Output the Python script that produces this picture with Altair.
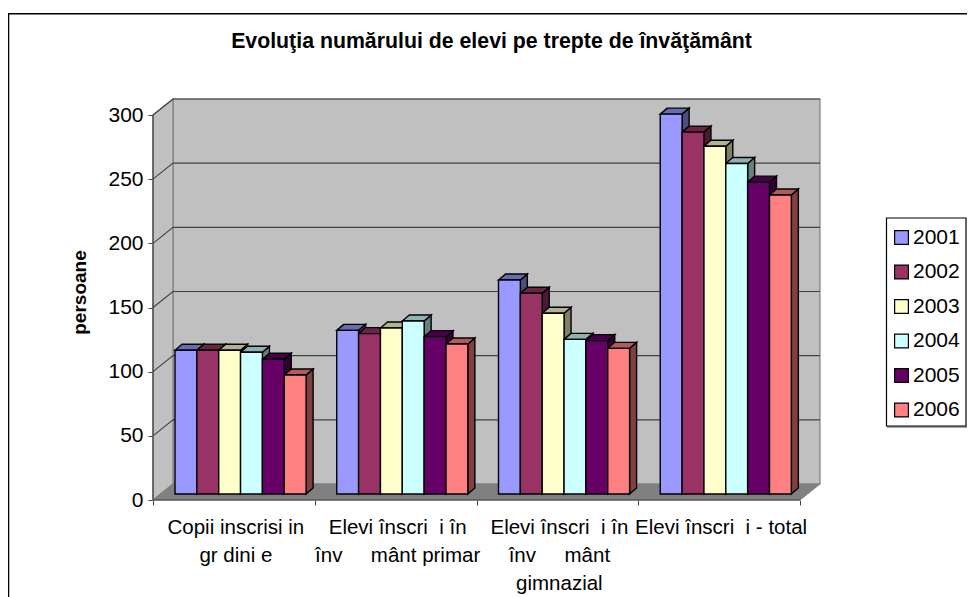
import altair as alt
import pandas as pd

# ---- values ----
categories = ["Copii inscrisi in\ngr\u00a0dini\u00a0e",
              "Elevi înscri\u00a0\u00a0i în\nînv\u00a0\u00a0\u00a0\u00a0\u00a0mânt primar",
              "Elevi înscri\u00a0\u00a0i în\nînv\u00a0\u00a0\u00a0\u00a0\u00a0mânt\ngimnazial",
              "Elevi înscri\u00a0\u00a0i - total"]
years = ["2001", "2002", "2003", "2004", "2005", "2006"]
v2001 = [112, 127.5, 166.8, 296]
v2002 = [112, 125, 156.4, 282]
v2003 = [112, 129.3, 140.8, 271]
v2004 = [110.5, 134.8, 120.5, 257.5]
v2005 = [105, 122.6, 119.5, 243]
v2006 = [92.7, 116.9, 113.5, 233]
series = [v2001, v2002, v2003, v2004, v2005, v2006]
front = ["#9999FF", "#993366", "#FFFFCC", "#CCFFFF", "#660066", "#FF8080"]
tops = ["#6B6BB3", "#6B2447", "#B3B38F", "#8FB3B3", "#470047", "#B35A5A"]
sides = ["#4D4D80", "#4D1A33", "#808066", "#668080", "#330033", "#804040"]
y_ticks = [0, 50, 100, 150, 200, 250, 300]

# ---- scale set-up: plot area is 667 x 401 px ----
W, H = 667, 401
CAT_PX = 161.75
VAL_PX = 385 / 300
dx = 20 / CAT_PX           # floor depth, in category units
dy = 16 / VAL_PX           # floor depth, in value units
bar_dx, bar_dy = 7 / CAT_PX, 6 / VAL_PX
bar_w = 21.85 / CAT_PX
start = 22 / CAT_PX
XS = alt.Scale(domain=[0, 4 + dx], nice=False, zero=False)
YS = alt.Scale(domain=[0, 300 + dy], nice=False, zero=False)
FONT = "Liberation Sans"
AX = alt.Axis(values=[0, 1, 2, 3, 4], labels=False, title=None, grid=False,
              domain=False, tickSize=5, tickColor="#404040")
AY = alt.Axis(values=y_ticks, title="persoane", grid=False, domain=False, tickSize=5,
              tickColor="#404040", labelFont=FONT, labelFontSize=21, labelColor="black",
              labelPadding=5, titleFont=FONT, titleFontSize=19, titleFontWeight="bold",
              titleColor="black", titleX=-64, titleY=193)


def X(f="x"):
    return alt.X(f"{f}:Q", scale=XS, axis=AX)


def Y(f="y"):
    return alt.Y(f"{f}:Q", scale=YS, axis=AY)


X2 = alt.X2("x2:Q")
Y2 = alt.Y2("y2:Q")

# walls
back = alt.Chart(pd.DataFrame({"x": [dx, 4 + dx], "y": [300 + dy] * 2, "y2": [dy] * 2})).mark_area(
    color="#C0C0C0", stroke="#808080", strokeWidth=1.2).encode(x=X(), y=Y(), y2=Y2)
left_wall = alt.Chart(pd.DataFrame({"x": [0, dx], "y": [300, 300 + dy], "y2": [0, dy]})).mark_area(
    color="#C0C0C0", stroke="#808080", strokeWidth=1.2).encode(x=X(), y=Y(), y2=Y2)

# grid lines: side wall diagonal + back wall
grid_rows = []
for v in y_ticks[1:]:
    grid_rows += [{"v": v, "x": 0, "y": v, "o": 0},
                  {"v": v, "x": dx, "y": v + dy, "o": 1},
                  {"v": v, "x": 4 + dx, "y": v + dy, "o": 2}]
grid = alt.Chart(pd.DataFrame(grid_rows)).mark_line(color="#404040", strokeWidth=1.1).encode(
    x=X(), y=Y(), detail="v:N", order="o:Q")

floor = alt.Chart(pd.DataFrame({"y": [0, dy], "x": [0, dx], "x2": [4, 4 + dx]})).mark_area(
    orient="horizontal", color="#808080", stroke="#808080").encode(x=X(), x2=X2, y=Y())

axis_y = alt.Chart(pd.DataFrame({"x": [0], "y": [0], "y2": [300]})).mark_rule(
    color="#404040", strokeWidth=1.2).encode(x=X(), y=Y(), y2=Y2)
axis_x = alt.Chart(pd.DataFrame({"x": [0], "x2": [4], "y": [0]})).mark_rule(
    color="#404040", strokeWidth=1.2).encode(x=X(), x2=X2, y=Y())

# bars
side_layers, top_layers, front_rows = [], [], []
for s, vals in enumerate(series):
    side_rows, top_rows = [], []
    for c, v in enumerate(vals):
        xl = c + start + s * bar_w
        xr = xl + bar_w
        base = bar_dy
        t = v + bar_dy
        front_rows.append({"year": years[s], "x": xl, "x2": xr, "y": t, "y2": base})
        side_rows += [{"c": c, "x": xr, "y": t, "y2": base},
                      {"c": c, "x": xr + bar_dx, "y": t + bar_dy, "y2": base + bar_dy}]
        top_rows += [{"c": c, "y": t, "x": xl, "x2": xr},
                     {"c": c, "y": t + bar_dy, "x": xl + bar_dx, "x2": xr + bar_dx}]
    side_layers.append(alt.Chart(pd.DataFrame(side_rows)).mark_area(
        color=sides[s], stroke="black", strokeWidth=1.4).encode(x=X(), y=Y(), y2=Y2, detail="c:N"))
    top_layers.append(alt.Chart(pd.DataFrame(top_rows)).mark_area(
        orient="horizontal", color=tops[s], stroke="black", strokeWidth=1.4).encode(
        x=X(), x2=X2, y=Y(), detail="c:N"))

fronts = alt.Chart(pd.DataFrame(front_rows)).mark_rect(stroke="black", strokeWidth=1.4).encode(
    x=X(), x2=X2, y=Y(), y2=Y2,
    fill=alt.Fill("year:N", scale=alt.Scale(domain=years, range=front),
                  legend=alt.Legend(title=None, orient="none", legendX=738, legendY=128, symbolType="square",
                                    symbolSize=190, symbolStrokeColor="black", symbolStrokeWidth=1.2,
                                    symbolOpacity=1, labelFont=FONT, labelFontSize=21, labelColor="black",
                                    labelOffset=1, rowPadding=12.5, padding=0, labelLimit=200)))

cat_text = alt.Chart(pd.DataFrame({"x": [i + 0.5 + 2 / CAT_PX for i in range(4)], "t": categories})).mark_text(
    font=FONT, fontSize=20.5, color="black", baseline="middle", lineBreak="\n", lineHeight=28).encode(
    x=X(), y=alt.value(428.5), text="t:N")

frame_top = alt.Chart().mark_rule(color="black", strokeWidth=1.5).encode(
    x=alt.value(-145), x2=alt.value(814), y=alt.value(-85.3))
frame_left = alt.Chart().mark_rule(color="black", strokeWidth=1.5).encode(
    x=alt.value(-144.5), y=alt.value(-86), y2=alt.value(498))
legend_box = alt.Chart().mark_rect(fill="white", stroke="black", strokeWidth=1.2).encode(
    x=alt.value(733.5), x2=alt.value(813), y=alt.value(119), y2=alt.value(327))
legend_shadow = alt.Chart().mark_rule(color="#808080", strokeWidth=1.5).encode(
    x=alt.value(734), x2=alt.value(814), y=alt.value(328))

chart = alt.layer(
    back, left_wall, grid, floor, axis_y, axis_x, *side_layers, *top_layers, fronts,
    cat_text, frame_top, frame_left, legend_shadow, legend_box
).properties(
    width=W, height=H,
    title=alt.TitleParams("Evoluţia numărului de elevi pe trepte de învăţământ", font=FONT, fontSize=21.3,
                          fontWeight="bold", color="black", anchor="middle", dx=5, dy=84, offset=44),
    autosize=alt.AutoSizeParams(type="none"),
    padding={"left": 145, "top": 91, "right": 147, "bottom": 97},
    background="white",
).configure_view(stroke=None)

chart.save("out.html", embed_options={"renderer": "svg", "actions": False})
